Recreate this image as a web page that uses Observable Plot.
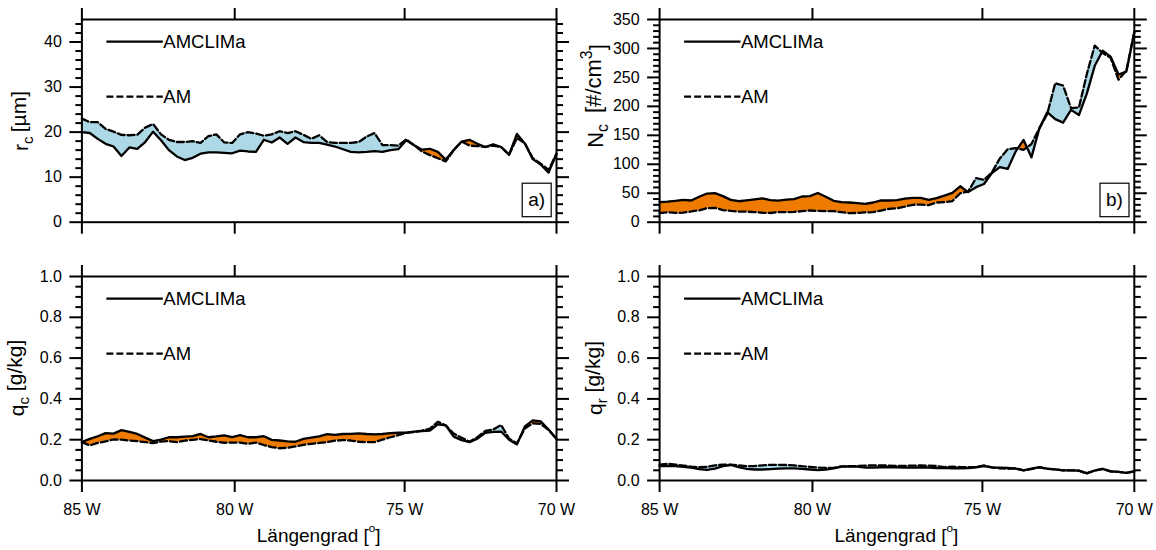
<!DOCTYPE html>
<html><head><meta charset="utf-8">
<script src="https://cdn.jsdelivr.net/npm/d3@7"></script>
<script src="https://cdn.jsdelivr.net/npm/@observablehq/plot@0.6"></script>
<style>
body{margin:0;background:#fff;}
#wrap{position:relative;width:1156px;height:550px;overflow:hidden;background:#fff;}
#wrap > div{position:absolute;}
#wrap svg{overflow:visible;display:block;}
</style></head><body><div id="wrap"></div>
<script>
// ---------- data ----------
const xTickIndex = [0, 19.32, 40.8, 60];
const xTickLabels = ["85 W", "80 W", "75 W", "70 W"];
const seriesNames = ["AMCLIMa", "AM"];

const rcAMCLIMa = [20.0,19.8,18.5,17.4,16.8,14.7,16.6,16.3,17.8,20.1, 18.2,16.0,14.6,13.8,14.3,15.2,15.5,15.5,15.4,15.3, 15.9,15.7,15.6,18.3,17.7,18.8,17.4,18.8,17.8,17.6, 17.6,17.2,16.8,16.2,15.6,15.5,15.6,15.8,15.6,16.0, 16.2,18.2,17.1,16.1,16.3,15.6,13.9,16.0,17.9,18.3, 17.4,16.7,17.3,16.7,15.0,19.6,17.5,14.0,12.8,11.0,15.2];
const rcAM = [23.0,22.2,22.2,20.7,20.1,19.4,19.3,19.4,21.0,21.8, 19.5,18.3,17.8,17.8,18.0,17.6,19.1,19.5,17.7,17.6, 19.5,20.0,19.7,19.2,19.5,20.2,19.8,20.2,19.4,18.5, 19.3,17.8,17.6,17.6,17.6,17.8,19.0,19.8,17.1,17.1, 17.0,18.4,17.1,15.7,14.9,14.2,13.5,16.0,17.9,17.0, 16.9,16.7,17.0,16.7,15.0,18.7,17.5,14.2,13.0,11.6,15.2];

const ncAMCLIMa = [34.6,35.6,37.0,38.6,37.5,44.0,49.5,50.1,45.0,38.5, 36.2,37.8,39.4,41.3,38.2,37.2,38.9,40.0,44.4,45.0, 50.5,44.0,37.0,34.8,34.0,33.0,31.7,34.0,37.5,37.5, 38.0,40.8,42.0,42.0,38.6,41.5,45.8,50.5,62.0,52.0, 60.5,66.0,85.0,95.0,92.0,122.0,142.0,112.0,162.0,190.0, 178.0,172.0,194.0,185.0,222.0,270.0,296.0,286.0,255.0,260.0,328.0];
const ncAM = [15.5,17.1,16.0,16.4,18.5,20.5,24.2,24.8,21.0,19.5, 18.4,18.3,17.4,16.3,15.9,17.3,17.3,17.8,19.0,20.2, 19.5,19.0,19.0,17.3,15.6,16.0,16.8,17.3,20.2,23.0, 24.0,27.0,30.0,30.5,29.5,34.0,34.6,36.5,50.0,53.0, 76.0,73.0,86.0,110.0,126.0,128.0,125.0,135.0,162.0,187.0, 240.0,236.0,197.0,198.0,256.0,305.0,292.0,284.0,246.0,262.0,328.0];

const qcAMCLIMa = [0.188,0.204,0.217,0.232,0.230,0.247,0.238,0.228,0.210,0.193, 0.200,0.212,0.212,0.215,0.218,0.228,0.212,0.216,0.221,0.213, 0.222,0.212,0.212,0.217,0.199,0.196,0.192,0.190,0.204,0.210, 0.216,0.227,0.224,0.228,0.229,0.231,0.228,0.226,0.228,0.232, 0.234,0.234,0.240,0.242,0.245,0.275,0.270,0.215,0.198,0.188, 0.205,0.234,0.238,0.240,0.200,0.177,0.265,0.295,0.290,0.250,0.204];
const qcAM = [0.188,0.172,0.184,0.192,0.201,0.200,0.196,0.193,0.188,0.183, 0.191,0.193,0.188,0.195,0.199,0.203,0.196,0.190,0.185,0.186, 0.186,0.180,0.186,0.174,0.164,0.158,0.160,0.167,0.175,0.180, 0.184,0.188,0.195,0.198,0.196,0.190,0.188,0.188,0.200,0.212, 0.222,0.234,0.238,0.245,0.254,0.288,0.270,0.230,0.210,0.190, 0.212,0.243,0.250,0.272,0.205,0.182,0.255,0.280,0.277,0.248,0.204];

const qrAMCLIMa = [0.070,0.071,0.071,0.067,0.063,0.056,0.052,0.058,0.070,0.076, 0.065,0.057,0.054,0.054,0.056,0.058,0.059,0.059,0.057,0.054, 0.051,0.053,0.059,0.068,0.069,0.068,0.063,0.063,0.065,0.065, 0.065,0.063,0.063,0.065,0.063,0.061,0.062,0.060,0.060,0.061, 0.065,0.070,0.064,0.063,0.062,0.058,0.050,0.058,0.065,0.058, 0.055,0.050,0.050,0.048,0.036,0.049,0.057,0.045,0.042,0.037,0.045];
const qrAM = [0.078,0.082,0.078,0.073,0.068,0.065,0.067,0.074,0.078,0.078, 0.074,0.070,0.071,0.074,0.077,0.077,0.076,0.074,0.070,0.067, 0.063,0.062,0.062,0.069,0.070,0.071,0.073,0.074,0.074,0.073, 0.071,0.072,0.073,0.074,0.073,0.071,0.066,0.068,0.066,0.065, 0.066,0.074,0.064,0.060,0.057,0.060,0.050,0.056,0.064,0.057, 0.054,0.050,0.050,0.048,0.034,0.049,0.057,0.045,0.042,0.037,0.045];

const rcTicks = [0, 10, 20, 30, 40];
const ncTicks = [0, 50, 100, 150, 200, 250, 300, 350];
const qTicks = [0, 0.2, 0.4, 0.6, 0.8, 1.0];

// ---------- drawing ----------
const FONT = "'Liberation Sans', Arial, Helvetica, sans-serif";
const ORANGE = "#ee7a00", BLUE = "#add8e6";
const LW = 2.3;
const N = rcAMCLIMa.length;
const tickLab = new Map(xTickIndex.map((v, i) => [v, xTickLabels[i]]));

function rowsWithCrossings(s, d) {
  const out = [];
  for (let i = 0; i < s.length; i++) {
    out.push({x: i, s: s[i], d: d[i]});
    if (i < s.length - 1) {
      const a = s[i] - d[i], b = s[i + 1] - d[i + 1];
      if (a * b < 0) {
        const t = a / (a - b);
        const y = s[i] + t * (s[i + 1] - s[i]);
        out.push({x: i + t, s: y, d: y});
      }
    }
  }
  return out;
}

function minorTicks(major, step, max) {
  const out = [];
  for (let v = 0; v <= max + 1e-9; v += step) {
    const r = Math.round(v * 1e6) / 1e6;
    if (!major.some(m => Math.abs(m - r) < 1e-9)) out.push(r);
  }
  return out;
}

function panel(o) {
  const rows = rowsWithCrossings(o.s, o.d);
  const pts = o.s.map((v, i) => ({x: i, s: v, d: o.d[i]}));
  const common = {strokeWidth: 2, label: null, fontSize: 16, fill: "black"};
  const none = () => "";
  const svg = Plot.plot({
    width: o.w, height: o.h,
    marginLeft: o.ml, marginRight: o.mr, marginTop: o.mt, marginBottom: o.mb,
    style: {fontFamily: FONT, background: "white", color: "black", overflow: "visible"},
    x: {domain: [0, N - 1]},
    y: {domain: o.domain},
    marks: [
      Plot.areaY(rows, {x: "x", y1: "d", y2: r => Math.max(r.s, r.d), fill: ORANGE}),
      Plot.areaY(rows, {x: "x", y1: "s", y2: r => Math.max(r.s, r.d), fill: BLUE}),
      Plot.line(pts, {x: "x", y: "s", stroke: "black", strokeWidth: LW}),
      Plot.line(pts, {x: "x", y: "d", stroke: "black", strokeWidth: LW, strokeDasharray: "7,3"}),
      Plot.frame({stroke: "black", strokeWidth: 2}),
      Plot.axisY({ticks: o.major, anchor: "left", tickSize: 12, tickPadding: 8, tickFormat: o.fmt, ...common}),
      Plot.axisY({ticks: o.minor, anchor: "left", tickSize: 6, tickFormat: none, ...common}),
      Plot.axisY({ticks: o.major, anchor: "right", tickSize: 12, tickFormat: none, ...common}),
      Plot.axisY({ticks: o.minor, anchor: "right", tickSize: 6, tickFormat: none, ...common}),
      Plot.axisX({ticks: xTickIndex, anchor: "top", tickSize: 12, tickFormat: none, ...common}),
      Plot.axisX({ticks: xTickIndex, anchor: "bottom", tickSize: 12, tickPadding: 11,
        tickFormat: o.xLabels ? (v => tickLab.get(v)) : none, ...common})
    ]
  });
  const g = d3.select(svg);
  // legend
  const lx1 = o.ml + 25, lx2 = o.ml + 81.4;
  [[o.mt + 22.7, null, seriesNames[0]], [o.mt + 77.7, "7,3", seriesNames[1]]].forEach(([y, dash, name]) => {
    g.append("line").attr("x1", lx1).attr("x2", lx2).attr("y1", y).attr("y2", y)
      .attr("stroke", "black").attr("stroke-width", LW).attr("stroke-dasharray", dash);
    g.append("text").attr("x", lx2 + 0.5).attr("y", y + 6.3).attr("text-anchor", "start")
      .attr("font-family", FONT).attr("font-size", 18.5).attr("fill", "black").text(name);
  });
  // panel tag
  if (o.tag) {
    const right = o.w - o.mr, bottom = o.h - o.mb;
    const bw = 29, bh = 33.5, bx = right - 4.8 - bw, by = bottom - 5 - bh;
    g.append("rect").attr("x", bx).attr("y", by).attr("width", bw).attr("height", bh)
      .attr("fill", "white").attr("stroke", "black").attr("stroke-width", 1.2);
    g.append("text").attr("x", bx + bw / 2).attr("y", by + bh / 2 + 6.5).attr("text-anchor", "middle")
      .attr("font-family", FONT).attr("font-size", 19).attr("fill", "black").text(o.tag);
  }
  // y label
  const yl = g.append("text")
    .attr("transform", `translate(${o.ylx},${o.yly}) rotate(-90)`)
    .attr("text-anchor", "middle").attr("font-family", FONT).attr("font-size", o.ylSize || 21)
    .attr("fill", "black");
  if (o.ylLen) yl.attr("textLength", o.ylLen).attr("lengthAdjust", "spacing");
  o.ylParts.forEach(([txt, kind]) => {
    const t = yl.append("tspan").text(txt);
    if (kind === "sub") t.attr("font-size", "72%").attr("dy", "0.3em");
    else if (kind === "sup") t.attr("font-size", "72%").attr("dy", "-0.55em");
    else if (kind === "afterSub") t.attr("dy", "-0.3em");
    else if (kind === "afterSup") t.attr("dy", "0.55em");
  });
  // x label
  if (o.xTitle) {
    const right = o.w - o.mr;
    const xt = g.append("text").attr("x", (o.ml + right) / 2).attr("y", o.h - 8.3)
      .attr("text-anchor", "middle").attr("font-family", FONT).attr("font-size", 19).attr("fill", "black");
    xt.append("tspan").text("Längengrad [");
    xt.append("tspan").attr("font-size", "62%").attr("dy", "-0.8em").text("o");
    xt.append("tspan").attr("dy", "0.5em").text("]");
  }
  const div = document.createElement("div");
  div.style.left = o.left + "px"; div.style.top = o.top + "px";
  div.appendChild(svg);
  document.getElementById("wrap").appendChild(div);
}

const f1 = d3.format(".1f");

panel({left: 0, top: 0, w: 578, h: 250, ml: 81.4, mr: 22, mt: 19, mb: 28.3,
  s: rcAMCLIMa, d: rcAM, domain: [0, 45], major: rcTicks, minor: minorTicks(rcTicks, 2, 44),
  fmt: d => String(d), xLabels: false, tag: "a)",
  ylx: 28, yly: 121, ylParts: [["r"], ["c", "sub"], ["\u2009[µm]", "afterSub"]]});

panel({left: 578, top: 0, w: 578, h: 250, ml: 81.1, mr: 22.2, mt: 19, mb: 28.3,
  s: ncAMCLIMa, d: ncAM, domain: [0, 350], major: ncTicks, minor: minorTicks(ncTicks, 10, 350),
  fmt: d => String(d), xLabels: false, tag: "b)",
  ylx: 25, yly: 96, ylSize: 22,
  ylParts: [["N"], ["c", "sub"], ["\u2002[#/cm", "afterSub"], ["3", "sup"], ["]", "afterSup"]]});

panel({left: 0, top: 250, w: 578, h: 300, ml: 81.4, mr: 22, mt: 26, mb: 70,
  s: qcAMCLIMa, d: qcAM, domain: [0, 1], major: qTicks, minor: minorTicks(qTicks, 0.05, 1),
  fmt: f1, xLabels: true, xTitle: true,
  ylx: 24, yly: 128, ylParts: [["q"], ["c", "sub"], [" [g/kg]", "afterSub"]]});

panel({left: 578, top: 250, w: 578, h: 300, ml: 81.1, mr: 22.2, mt: 26, mb: 70,
  s: qrAMCLIMa, d: qrAM, domain: [0, 1], major: qTicks, minor: minorTicks(qTicks, 0.05, 1),
  fmt: f1, xLabels: true, xTitle: true,
  ylx: 24, yly: 128, ylParts: [["q"], ["r", "sub"], [" [g/kg]", "afterSub"]]});
</script>
</body></html>
